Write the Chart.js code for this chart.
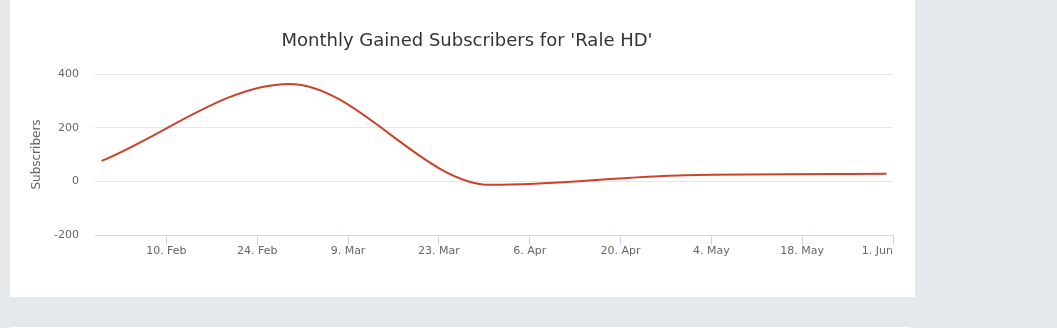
<!DOCTYPE html>
<html>
<head>
<meta charset="utf-8">
<title>Monthly Gained Subscribers</title>
<script src="https://cdn.jsdelivr.net/npm/chart.js@4"></script>
<style>
  body { margin: 0; background: #e6e9ec; width: 1057px; height: 328px; overflow: hidden; position: relative; }
  #card { position: absolute; left: 10px; top: 0; width: 905px; height: 297px; background: #fff; }
  #strip { position: absolute; left: 10px; top: 327px; width: 900px; height: 1px; background: #fff; }
</style>
</head>
<body>
<div id="card"><canvas id="subsChart"></canvas></div>
<div id="strip"></div>
<script>
  // monthly data points (end of month)
  const pointDates = ['2020-01-31', '2020-02-29', '2020-03-31', '2020-04-30', '2020-05-31'];
  const gainedSubs = [76, 363, -13, 23, 28];

  // x axis ticks
  const tickDates = ['2020-02-10', '2020-02-24', '2020-03-09', '2020-03-23', '2020-04-06',
                     '2020-04-20', '2020-05-04', '2020-05-18', '2020-06-01'];
  const tickLabels = ['10. Feb', '24. Feb', '9. Mar', '23. Mar', '6. Apr',
                      '20. Apr', '4. May', '18. May', '1. Jun'];
  const axisStart = '2020-01-30';
  const axisEnd = '2020-06-01';

  // y axis
  const yMin = -200;
  const yMax = 400;
  const yStep = 200;

  function dayNum(s) {
    return Date.parse(s + 'T00:00:00Z') / 86400000;
  }

  const points = pointDates.map((d, i) => ({ x: dayNum(d), y: gainedSubs[i] }));
  const font = 'DejaVu Sans';

  // Highcharts-style tweaks: title centred on the whole card,
  // last x label pulled in to end at its tick
  const layoutFix = {
    id: 'layoutFix',
    afterLayout(chart) {
      chart.titleBlock.left += 31;
    },
    beforeDraw(chart) {
      const items = chart.scales.x.getLabelItems();
      if (items.length) items[items.length - 1].options.textAlign = 'right';
    }
  };

  new Chart(document.getElementById('subsChart'), {
    type: 'line',
    data: {
      datasets: [{
        label: 'Subscribers',
        data: points,
        borderColor: '#c9432b',
        borderWidth: 2,
        pointRadius: 0,
        fill: false,
        cubicInterpolationMode: 'monotone'
      }]
    },
    options: {
      responsive: true,
      maintainAspectRatio: false,
      animation: false,
      layout: { padding: { left: 0, right: 22, top: 0, bottom: 0 } },
      plugins: {
        legend: { display: false },
        tooltip: { enabled: false },
        title: {
          display: true,
          text: "Monthly Gained Subscribers for 'Rale HD'",
          color: '#333333',
          font: { family: font, size: 18, weight: 'normal' },
          padding: { top: 31, bottom: 21.4 }
        }
      },
      scales: {
        x: {
          type: 'linear',
          min: dayNum(axisStart),
          max: dayNum(axisEnd),
          afterBuildTicks: scale => {
            scale.ticks = tickDates.map(d => ({ value: dayNum(d) }));
          },
          afterFit: scale => { scale.height = 62; },
          grid: {
            drawOnChartArea: false,
            drawTicks: true,
            tickLength: 10,
            color: '#ccd6eb'
          },
          border: { display: true, color: '#ccd6eb' },
          ticks: {
            autoSkip: false,
            maxRotation: 0,
            padding: 0,
            color: '#666666',
            font: { family: font, size: 11 },
            callback: (v, i) => tickLabels[i]
          }
        },
        y: {
          min: yMin,
          max: yMax,
          afterFit: scale => { scale.width = 85; },
          grid: { color: '#e6e6e6', drawTicks: false },
          border: { display: false },
          ticks: {
            stepSize: yStep,
            padding: 16,
            color: '#666666',
            font: { family: font, size: 11 }
          },
          title: {
            display: true,
            text: 'Subscribers',
            color: '#666666',
            font: { family: font, size: 12 },
            padding: { top: 20, bottom: 0 }
          }
        }
      }
    },
    plugins: [layoutFix]
  });
</script>
</body>
</html>
